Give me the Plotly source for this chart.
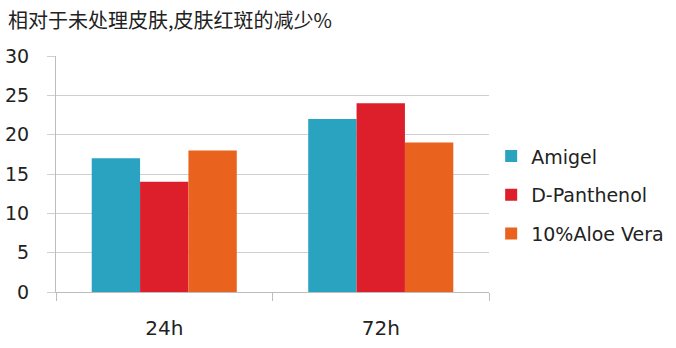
import plotly.graph_objects as go

title = "相对于未处理皮肤,皮肤红斑的减少%"
categories = ["24h", "72h"]
series_names = ["Amigel", "D-Panthenol", "10%Aloe Vera"]
amigel = [17, 22]
d_panthenol = [14, 24]
aloe_vera = [18, 19]
colors = ["#2aa3c1", "#dc1f2b", "#e9631f"]
y_ticks = [0, 5, 10, 15, 20, 25, 30]

FONT = "DejaVu Sans, Noto Sans CJK SC, sans-serif"
CJK = "Noto Sans CJK SC, sans-serif"

fig = go.Figure()
for i, (name, vals) in enumerate(zip(series_names, [amigel, d_panthenol, aloe_vera])):
    fig.add_trace(go.Bar(x=categories, y=vals, name=name, marker_color=colors[i],
                         marker_line_width=0, legendgroup=f"g{i}"))

fig.update_layout(
    width=676, height=348,
    margin=dict(l=56, r=187, t=56, b=56, autoexpand=False),
    paper_bgcolor="white", plot_bgcolor="white",
    barmode="group", bargap=0.33, bargroupgap=0,
    font=dict(family=FONT, size=17, color="#222222"),
    showlegend=True,
    legend=dict(x=1.005, y=0.41, xanchor="left", yanchor="middle",
                font=dict(size=19, color="#222222", family=FONT), tracegroupgap=11,
                itemwidth=30),
)
fig.add_annotation(text=title, xref="paper", yref="paper", x=-50/433, y=1 + 36/236,
                   xanchor="left", yanchor="middle", showarrow=False,
                   font=dict(size=20, color="#222222", family=CJK))

fig.update_yaxes(range=[0, 30], tickvals=y_ticks, showgrid=True, gridcolor="#cfcfcf",
                 gridwidth=1, showline=True, linecolor="#bdbdbd", linewidth=1,
                 ticks="outside", ticklen=8, tickcolor="#cfcfcf",
                 ticklabelstandoff=14, zeroline=False, automargin=False,
                 tickfont=dict(size=19, color="#222222"))
fig.update_xaxes(showline=True, linecolor="#bdbdbd", linewidth=1,
                 ticks="outside", ticklen=8, tickcolor="#bdbdbd", tickson="boundaries",
                 ticklabelstandoff=18, tickfont=dict(size=20, color="#222222"),
                 mirror=False, automargin=False)

fig.write_html("out.html")
